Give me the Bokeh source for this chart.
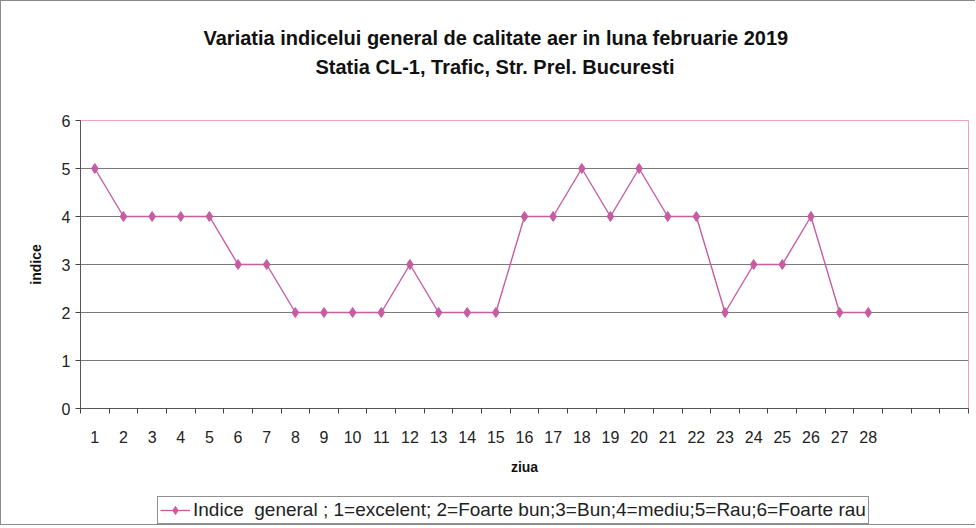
from bokeh.plotting import figure
from bokeh.layouts import column
from bokeh.models import (Range1d, FixedTicker, Title, Legend, LegendItem)
from bokeh.embed import file_html
from bokeh.resources import INLINE

days = list(range(1, 29))
indice = [5, 4, 4, 4, 4, 3, 3, 2, 2, 2, 2, 3, 2, 2, 2, 4, 4, 5, 4, 5, 4, 4, 2, 3, 3, 4, 2, 2]
n_slots = 31
y_ticks = [0, 1, 2, 3, 4, 5, 6]
title1 = "Variatia indicelui general de calitate aer in luna februarie 2019"
title2 = "Statia CL-1, Trafic, Str. Prel. Bucuresti"
ylabel = "indice"
xlabel = "ziua"
legend_text = "Indice  general ; 1=excelent; 2=Foarte bun;3=Bun;4=mediu;5=Rau;6=Foarte rau"

FONT = "Liberation Sans"
COL = "#C65CA2"
BORDER = "1px solid #8a8a8a"

W = 975
p = figure(width=W, height=487, output_backend="svg", toolbar_location=None,
           x_range=Range1d(0.5, n_slots + 0.5), y_range=Range1d(0, 6),
           min_border_left=79, min_border_right=8, min_border_top=119,
           min_border_bottom=80)
p.styles = {"border-left": BORDER, "border-top": BORDER}
p.outline_line_color = "#F0A0C0"
p.outline_line_width = 1

# x axis
p.xaxis.ticker = FixedTicker(ticks=days, minor_ticks=[i + 0.5 for i in range(n_slots + 1)])
p.xaxis.major_tick_line_color = None
p.xaxis.major_tick_out = 5
p.xaxis.major_tick_in = 0
p.xaxis.minor_tick_out = 5
p.xaxis.minor_tick_in = 0
p.xaxis.minor_tick_line_color = "#444"
p.xaxis.major_label_text_font = FONT
p.xaxis.major_label_text_font_size = "16px"
p.xaxis.major_label_text_color = "#222"
p.xaxis.major_label_standoff = 17
p.xaxis.axis_line_color = "#555"
p.xaxis.axis_label = xlabel
p.xaxis.axis_label_text_font = FONT
p.xaxis.axis_label_text_font_size = "14px"
p.xaxis.axis_label_text_font_style = "bold"
p.xaxis.axis_label_text_color = "#111"
p.xaxis.axis_label_standoff = 13

# y axis
p.yaxis.ticker = FixedTicker(ticks=y_ticks, minor_ticks=[])
p.yaxis.major_tick_out = 5
p.yaxis.major_tick_in = 0
p.yaxis.major_tick_line_color = "#444"
p.yaxis.major_label_text_font = FONT
p.yaxis.major_label_text_font_size = "16px"
p.yaxis.major_label_text_color = "#222"
p.yaxis.major_label_standoff = 5
p.yaxis.axis_line_color = "#555"
p.yaxis.axis_label = ylabel
p.yaxis.axis_label_text_font = FONT
p.yaxis.axis_label_text_font_size = "14px"
p.yaxis.axis_label_text_font_style = "bold"
p.yaxis.axis_label_text_color = "#111"
p.yaxis.axis_label_standoff = 15

p.xgrid.grid_line_color = None
p.ygrid.ticker = FixedTicker(ticks=y_ticks[1:-1])
p.ygrid.grid_line_color = "#7a7a7a"
p.ygrid.grid_line_width = 1

p.line(days, indice, line_color=COL, line_width=1.4)
p.scatter(days, indice, marker="diamond", size=10, fill_color=COL, line_color=COL)

# titles (first added = nearest to the frame)
p.add_layout(Title(text=" ", text_font_size="10px", standoff=27, vertical_align="middle"), "above")
p.add_layout(Title(text=title2, text_font=FONT, text_font_size="20px", text_font_style="bold",
                   text_color="#111", align="left", offset=235, standoff=4,
                   vertical_align="middle"), "above")
p.add_layout(Title(text=title1, text_font=FONT, text_font_size="20px", text_font_style="bold",
                   text_color="#111", align="left", offset=123, standoff=5,
                   vertical_align="middle"), "above")

# legend strip below the chart (series drawn outside its view, only the key shows)
lf = figure(width=W, height=38, output_backend="svg", toolbar_location=None,
            x_range=Range1d(-100, -99), y_range=Range1d(-100, -99),
            x_axis_type=None, y_axis_type=None, min_border=0)
lf.styles = {"border-left": BORDER, "border-bottom": BORDER}
lf.outline_line_color = None
lf.xgrid.visible = False
lf.ygrid.visible = False
lr_line = lf.line(days, indice, line_color=COL, line_width=1.4)
lr_mark = lf.scatter(days, indice, marker="diamond", size=10, fill_color=COL, line_color=COL)

legend = Legend(items=[LegendItem(label=legend_text, renderers=[lr_line, lr_mark])],
                location=(77, 1), orientation="horizontal")
legend.border_line_color = "#222"
legend.border_line_width = 1
legend.label_text_font = FONT
legend.label_text_font_size = "19px"
legend.label_text_color = "#222"
legend.padding = 2
legend.margin = 0
legend.glyph_width = 30
legend.glyph_height = 20
legend.label_standoff = 3
legend.label_height = 20
lf.add_layout(legend, "center")

layout = column(p, lf, spacing=0)
open("out.html", "w").write(file_html(layout, INLINE))
